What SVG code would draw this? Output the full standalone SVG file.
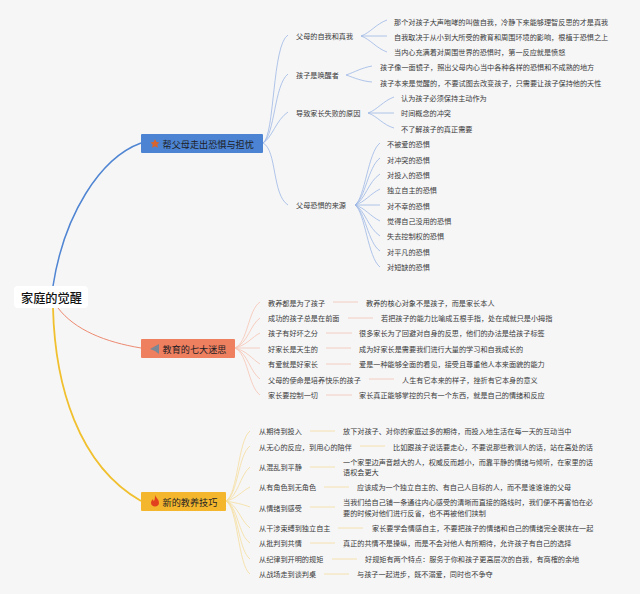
<svg xmlns="http://www.w3.org/2000/svg" width="640" height="594" viewBox="0 0 640 594">
<style>
text{font-family:"Noto Sans CJK SC","Noto Sans",sans-serif;dominant-baseline:central;fill:#3a3a3a}
.t{font-size:7.15px}
.m{font-size:9.15px;fill:#1d1d24}
.r{font-size:12.2px;font-weight:500;fill:#111}
path{fill:none}
.b{stroke:#9db8e4;stroke-width:.8}
.o{stroke:#f6c4b2;stroke-width:.8}
.y{stroke:#f5dd9c;stroke-width:.8}
</style>
<rect width="640" height="594" fill="#f6f6f7"/>
<g id="connectors">
<path d="M53 286C64 215 100 158 141 143" stroke="#4f85d2" stroke-width="1.5"/>
<path d="M58 308C75 330 105 342 141 348" stroke="#ed8a70" stroke-width="1"/>
<path d="M53 308C55 385 78 465 141 501" stroke="#f1c02e" stroke-width="1.8"/>
<path class="b" d="M263 143C275 135 272 45 288 35"/>
<path class="b" d="M263 143C275 135 274 85 288 74"/>
<path class="b" d="M263 143C272 138 276 120 288 112"/>
<path class="b" d="M263 143C277 150 272 195 288 205"/>
<path class="b" d="M361 36C370 33 376 24 387 20"/><path class="b" d="M361 36H387"/><path class="b" d="M361 36C370 39 376 48 387 52"/>
<path class="b" d="M346 75C355 72 361 68 372 66"/><path class="b" d="M346 75C355 78 361 81 372 82"/>
<path class="b" d="M368 113C377 110 383 101 394 97"/><path class="b" d="M368 113H394"/><path class="b" d="M368 113C377 116 383 125 394 128"/>
<path class="b" d="M355 205C365 198 368 152 380 143"/>
<path class="b" d="M355 205C365 199 368 167 380 158"/>
<path class="b" d="M355 205C365 200 368 182 380 174"/>
<path class="b" d="M355 205C365 202 370 194 380 189"/>
<path class="b" d="M355 205H380"/>
<path class="b" d="M355 205C365 208 370 216 380 221"/>
<path class="b" d="M355 205C365 210 368 228 380 236"/>
<path class="b" d="M355 205C365 211 368 243 380 251"/>
<path class="b" d="M355 205C365 212 368 258 380 267"/>
<path class="o" d="M235 348C248 342 248 310 260 302"/>
<path class="o" d="M235 348C248 343 250 325 260 318"/>
<path class="o" d="M235 348C247 345 252 337 260 333"/>
<path class="o" d="M235 348H260"/>
<path class="o" d="M235 348C247 351 252 359 260 364"/>
<path class="o" d="M235 348C248 353 250 372 260 379"/>
<path class="o" d="M235 348C248 354 248 386 260 395"/>
<path class="o" d="M333 302H358M348 318H373M326 333H352M326 348H351M326 364H351M369 379H394M326 395H352"/>
<path class="y" d="M226 501C238 494 238 440 250 431"/>
<path class="y" d="M226 501C238 495 238 455 250 446"/>
<path class="y" d="M226 501C238 497 240 475 250 467"/>
<path class="y" d="M226 501C236 499 242 491 250 487"/>
<path class="y" d="M226 501C236 503 242 504 250 507"/>
<path class="y" d="M226 501C238 505 240 520 250 528"/>
<path class="y" d="M226 501C238 506 238 535 250 543"/>
<path class="y" d="M226 501C238 507 238 550 250 559"/>
<path class="y" d="M226 501C238 508 238 565 250 574"/>
<path class="y" d="M310 431H335M360 446H385M310 467H335M324 487H349M310 507H335M338 528H363M310 543H335M332 559H357M324 574H349"/>
</g>
<g id="root"><rect x="14" y="286" width="74" height="22" rx="4" fill="#fff"/><text class="r" x="21" y="298">家庭的觉醒</text></g>
<g id="node-1"><rect x="141" y="134" width="122" height="19" rx="1" fill="#4c84d3"/><polygon points="155,139 156.500,142 159.500,142.400 157.300,144.500 157.900,147.700 155,146.200 152.100,147.700 152.700,144.500 150.500,142.400 153.500,142" fill="#d8642f"/><text class="m" x="162.500" y="144">帮父母走出恐惧与担忧</text></g>
<g id="node-2"><rect x="141" y="339" width="94" height="19" rx="1" fill="#ee7f5f"/><polygon points="150,349 159,344 159,354 155,351" fill="#7b8794"/><text class="m" x="162.500" y="348.500">教育的七大迷思</text></g>
<g id="node-3"><rect x="141" y="492" width="85" height="19" rx="1" fill="#f3b62c"/><path d="M155 495C156 498 159 499 159 503C159 505 157 506.500 155 506.500C153 506.500 151 505 151 503C151 501 152 500 153 499C153 500 153.500 501 154 501C155 499 155 497 155 495Z" style="fill:#e2411f"/><text class="m" x="162.500" y="501.500">新的教养技巧</text></g>
<g id="branch-1">
<g id="n1a"><text class="t" x="296" y="36">父母的自我和真我</text><text class="t" x="394" y="21.500">那个对孩子大声咆哮的叫做自我，冷静下来能够理智反思的才是真我</text><text class="t" x="394" y="36.500">自我取决于从小到大所受的教育和周围环境的影响，根植于恐惧之上</text><text class="t" x="394" y="51.500">当内心充满着对周围世界的恐惧时，第一反应就是愤怒</text></g>
<g id="n1b"><text class="t" x="296" y="75">孩子是唤醒者</text><text class="t" x="380" y="67">孩子像一面镜子，照出父母内心当中各种各样的恐惧和不成熟的地方</text><text class="t" x="380" y="82.500">孩子本来是觉醒的，不要试图去改变孩子，只需要让孩子保持他的天性</text></g>
<g id="n1c"><text class="t" x="296" y="113">导致家长失败的原因</text><text class="t" x="401" y="98">认为孩子必须保持主动作为</text><text class="t" x="401" y="113">时间概念的冲突</text><text class="t" x="401" y="128.500">不了解孩子的真正需要</text></g>
<g id="n1d"><text class="t" x="296" y="205">父母恐惧的来源</text><text class="t" x="387" y="144">不被爱的恐惧</text><text class="t" x="387" y="159.500">对冲突的恐惧</text><text class="t" x="387" y="174.500">对投入的恐惧</text><text class="t" x="387" y="190">独立自主的恐惧</text><text class="t" x="387" y="205.500">对不幸的恐惧</text><text class="t" x="387" y="220.500">觉得自己没用的恐惧</text><text class="t" x="387" y="236">失去控制权的恐惧</text><text class="t" x="387" y="251.500">对平凡的恐惧</text><text class="t" x="387" y="267">对短缺的恐惧</text></g>
</g>
<g id="branch-2">
<text class="t" x="268" y="302.500">教养都是为了孩子</text><text class="t" x="366" y="302.500">教养的核心对象不是孩子，而是家长本人</text>
<text class="t" x="268" y="318">成功的孩子总是在前面</text><text class="t" x="381" y="318">若把孩子的能力比喻成五根手指，处在成就只是小拇指</text>
<text class="t" x="268" y="333">孩子有好坏之分</text><text class="t" x="359" y="333">很多家长为了回避对自身的反思，他们的办法是给孩子标签</text>
<text class="t" x="268" y="348.500">好家长是天生的</text><text class="t" x="359" y="348.500">成为好家长是需要我们进行大量的学习和自我成长的</text>
<text class="t" x="268" y="364">有爱就是好家长</text><text class="t" x="359" y="364">爱是一种能够全面的看见，接受且尊重他人本来面貌的能力</text>
<text class="t" x="268" y="379.500">父母的使命是培养快乐的孩子</text><text class="t" x="402" y="379.500">人生有它本来的样子，挫折有它本身的意义</text>
<text class="t" x="268" y="395">家长要控制一切</text><text class="t" x="359" y="395">家长真正能够掌控的只有一个东西，就是自己的情绪和反应</text>
</g>
<g id="branch-3">
<text class="t" x="259" y="431">从期待到投入</text><text class="t" x="343" y="431">放下对孩子、对你的家庭过多的期待，而投入地生活在每一天的互动当中</text>
<text class="t" x="259" y="446.500">从无心的反应，到用心的陪伴</text><text class="t" x="393" y="446.500">比如跟孩子说话要走心，不要说那些教训人的话，站在高处的话</text>
<text class="t" x="259" y="467">从混乱到平静</text><text class="t" x="343" y="461.500">一个家里边声音越大的人，权威反而越小，而靠平静的情绪与倾听，在家里的话</text><text class="t" x="343" y="472">语权会更大</text>
<text class="t" x="259" y="487">从有角色到无角色</text><text class="t" x="357" y="487">应该成为一个独立自主的、有自己人目标的人，而不是谁谁谁的父母</text>
<text class="t" x="259" y="507.500">从情绪到感受</text><text class="t" x="343" y="502">当我们给自己铺一条通往内心感受的清晰而直接的路线时，我们便不再害怕在必</text><text class="t" x="343" y="513">要的时候对他们进行反省，也不再被他们挟制</text>
<text class="t" x="259" y="528">从干涉束缚到独立自主</text><text class="t" x="372" y="528">家长要学会情感自主，不要把孩子的情绪和自己的情绪完全裹挟在一起</text>
<text class="t" x="259" y="543">从批判到共情</text><text class="t" x="343" y="543">真正的共情不是操纵，而是不会对他人有所期待，允许孩子有自己的选择</text>
<text class="t" x="259" y="559">从纪律到开明的规矩</text><text class="t" x="365" y="559">好规矩有两个特点：服务于你和孩子更高层次的自我，有商榷的余地</text>
<text class="t" x="259" y="574">从战场走到谈判桌</text><text class="t" x="357" y="574">与孩子一起进步，既不溺爱，同时也不争夺</text>
</g>
</svg>
